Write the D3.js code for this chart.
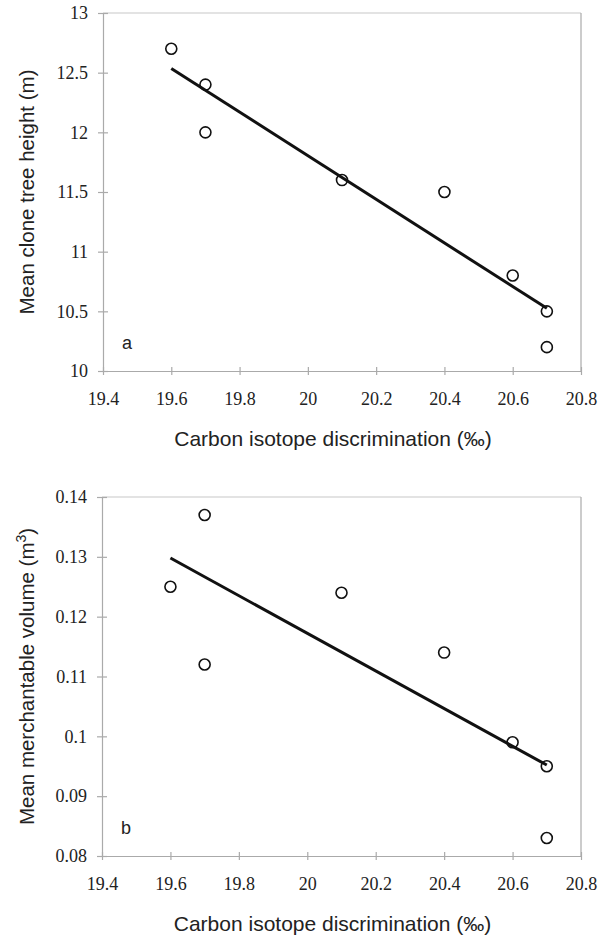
<!DOCTYPE html>
<html>
<head>
<meta charset="utf-8">
<script src="https://cdn.jsdelivr.net/npm/d3@7"></script>
<style>
  body { margin: 0; background: #fff; }
</style>
</head>
<body>
<div id="container"></div>
<script>
var discrim = [19.6, 19.7, 19.7, 20.1, 20.4, 20.6, 20.7, 20.7];
var heightVals = [12.7, 12.4, 12.0, 11.6, 11.5, 10.8, 10.5, 10.2];
var volumeVals = [0.125, 0.137, 0.112, 0.124, 0.114, 0.099, 0.095, 0.083];
var heightFit = [[19.6, 12.535], [20.7, 10.525]];
var volumeFit = [[19.6, 0.1298], [20.7, 0.0952]];
var xTicks = [19.4, 19.6, 19.8, 20, 20.2, 20.4, 20.6, 20.8];
var heightTicks = [10, 10.5, 11, 11.5, 12, 12.5, 13];
var volumeTicks = [0.08, 0.09, 0.1, 0.11, 0.12, 0.13, 0.14];

var sans = "Liberation Sans, Arial, sans-serif";
var serif = "Liberation Serif, DejaVu Serif, serif";

var svg = d3.select("#container")
  .append("svg")
    .attr("width", 602)
    .attr("height", 936);

function drawPanel(opts) {
  var g = svg.append("g");

  var x = d3.scaleLinear()
      .domain([19.4, 20.8])
      .range([opts.left, opts.right]);

  var y = d3.scaleLinear()
      .domain(opts.yDomain)
      .range([opts.bottom, opts.top]);

  // frame (top + right)
  g.append("line")
    .attr("x1", opts.left).attr("x2", opts.right)
    .attr("y1", opts.top).attr("y2", opts.top)
    .attr("stroke", "#c8c8c8").attr("stroke-width", 1.2);
  g.append("line")
    .attr("x1", opts.right).attr("x2", opts.right)
    .attr("y1", opts.top).attr("y2", opts.bottom)
    .attr("stroke", "#aaa").attr("stroke-width", 1.2);

  var xAxis = g.append("g")
    .attr("transform", "translate(0," + opts.bottom + ")")
    .call(d3.axisBottom(x).tickValues(xTicks).tickFormat(d3.format("")).tickSizeInner(4).tickSizeOuter(0).tickPadding(17));
  xAxis.selectAll(".tick line").attr("y1", -4);

  var yAxis = g.append("g")
    .attr("transform", "translate(" + opts.left + ",0)")
    .call(d3.axisLeft(y).tickValues(opts.yTicks).tickFormat(d3.format("")).tickSizeInner(5).tickSizeOuter(0).tickPadding(10));
  yAxis.selectAll(".tick line").attr("x1", 5).attr("x2", -5);

  xAxis.attr("font-family", serif).attr("font-size", 18);
  yAxis.attr("font-family", serif).attr("font-size", 18);
  g.selectAll(".domain").attr("stroke", "#aaa").attr("stroke-width", 1.2);
  g.selectAll(".tick line").attr("stroke", "#aaa").attr("stroke-width", 1.2);
  g.selectAll(".tick text")
    .style("font-family", serif)
    .style("font-size", "18px")
    .attr("fill", "#222");

  // regression line
  g.append("line")
    .attr("x1", x(opts.fit[0][0])).attr("y1", y(opts.fit[0][1]))
    .attr("x2", x(opts.fit[1][0])).attr("y2", y(opts.fit[1][1]))
    .attr("stroke", "#111").attr("stroke-width", 3);

  g.selectAll("circle")
    .data(discrim.map(function(d, i) { return [d, opts.values[i]]; }))
    .enter()
    .append("circle")
    .attr("cx", function(d) { return x(d[0]); })
    .attr("cy", function(d) { return y(d[1]); })
    .attr("r", 5.5)
    .attr("fill", "none")
    .attr("stroke", "#111")
    .attr("stroke-width", 1.6);

  g.append("text")
    .attr("x", opts.left + 19).attr("y", opts.letterY)
    .attr("font-family", sans).attr("font-size", 18).attr("fill", "#222")
    .text(opts.letter);

  g.append("text")
    .attr("x", (opts.left + opts.right) / 2 - 9)
    .attr("y", opts.bottom + 75)
    .attr("text-anchor", "middle")
    .attr("font-family", sans).attr("font-size", 21).attr("fill", "#222")
    .text("Carbon isotope discrimination (‰)");

  var yt = g.append("text")
    .attr("transform", "translate(34," + ((opts.top + opts.bottom) / 2) + ") rotate(-90)")
    .attr("text-anchor", "middle")
    .attr("font-family", sans).attr("font-size", 20.5).attr("fill", "#222");
  yt.append("tspan").text(opts.yLabel);
  if (opts.sup) {
    yt.append("tspan").attr("dy", -8).attr("font-size", 14).text(opts.sup);
    yt.append("tspan").attr("dy", 8).text(")");
  }
}

drawPanel({
  left: 103, right: 581, top: 13, bottom: 371,
  yDomain: [10, 13], yTicks: heightTicks,
  values: heightVals, fit: heightFit,
  letter: "a", letterY: 349,
  yLabel: "Mean clone tree height (m)"
});

drawPanel({
  left: 102, right: 581, top: 497, bottom: 856,
  yDomain: [0.08, 0.14], yTicks: volumeTicks,
  values: volumeVals, fit: volumeFit,
  letter: "b", letterY: 834,
  yLabel: "Mean merchantable volume (m", sup: "3"
});
</script>
</body>
</html>
